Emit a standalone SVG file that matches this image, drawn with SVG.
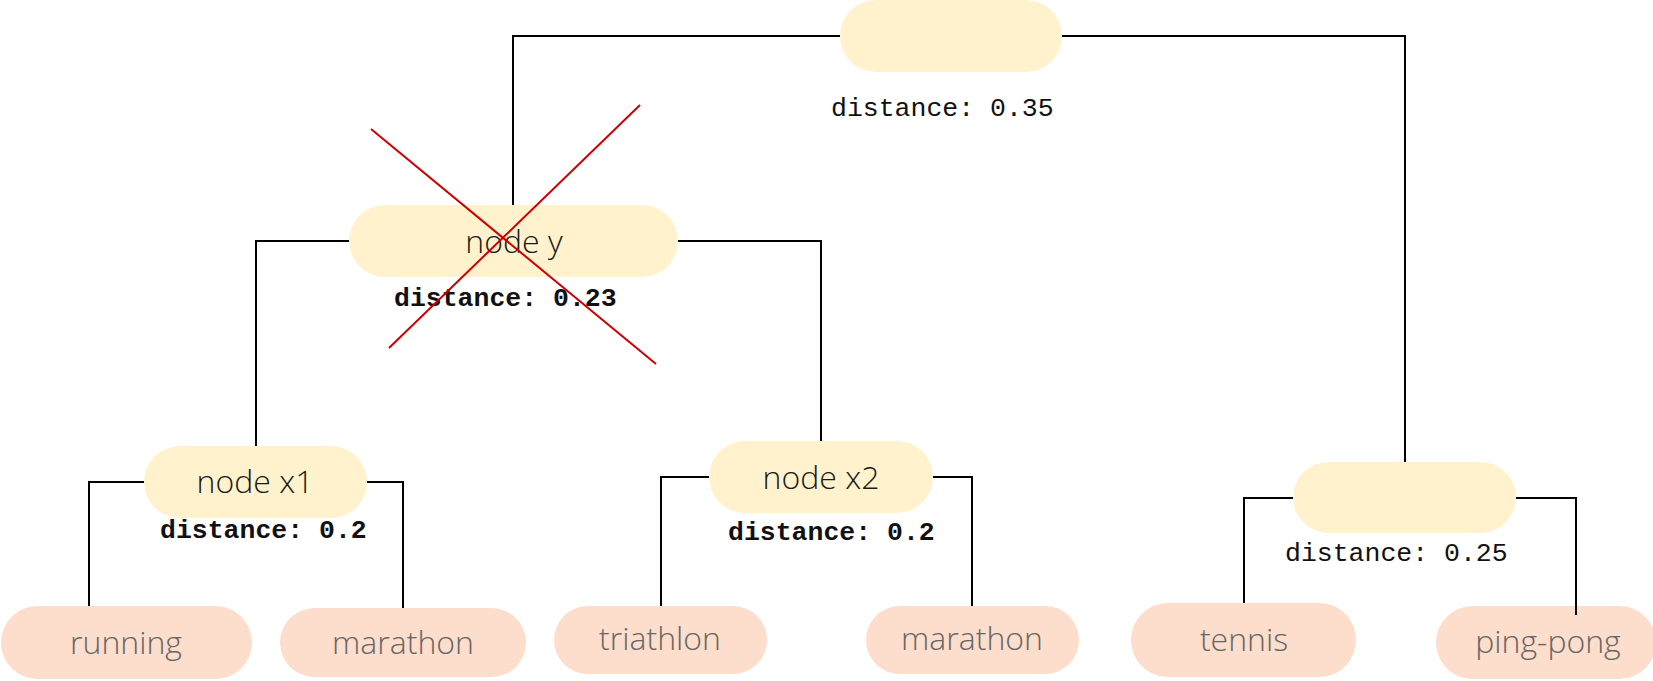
<svg xmlns="http://www.w3.org/2000/svg" width="1653" height="681" viewBox="0 0 1653 681">
  <style>
    .inner { fill: #FFF2CC; }
    .leaf { fill: #FDDDCB; }
    .lbl { font-family: "Open Sans", "Liberation Sans", sans-serif; font-weight: 300; font-size: 32px; text-anchor: middle; }
    .inner-lbl { fill: #1A1A1A; }
    .leaf-lbl { fill: #666666; }
    .dist { font-family: "Liberation Mono", "DejaVu Sans Mono", monospace; font-size: 26.5px; fill: #111111; }
    .bold { font-weight: bold; }
    .edge { fill: none; stroke: #000000; stroke-width: 2; }
    .cross { stroke: #CC0000; stroke-width: 2; fill: none; }
  </style>

  <!-- inner (merge) nodes -->
  <g id="node-root">
    <rect class="inner" x="840" y="0" width="222" height="72" rx="36"/>
    <text class="dist" x="831" y="116">distance: 0.35</text>
  </g>
  <g id="node-y">
    <rect class="inner" x="349" y="205" width="329" height="72" rx="36"/>
    <text class="lbl inner-lbl" x="514" y="253">node y</text>
    <text class="dist bold" x="394" y="306">distance: 0.23</text>
  </g>
  <g id="node-x1">
    <rect class="inner" x="144" y="446" width="223" height="72" rx="36"/>
    <text class="lbl inner-lbl" x="255" y="493">node x1</text>
    <text class="dist bold" x="160" y="538">distance: 0.2</text>
  </g>
  <g id="node-x2">
    <rect class="inner" x="709" y="441" width="224" height="72" rx="36"/>
    <text class="lbl inner-lbl" x="821" y="489">node x2</text>
    <text class="dist bold" x="728" y="540">distance: 0.2</text>
  </g>
  <g id="node-racket">
    <rect class="inner" x="1293" y="462" width="223" height="71" rx="35.5"/>
    <text class="dist" x="1285" y="561">distance: 0.25</text>
  </g>

  <!-- leaves -->
  <g id="leaf-running">
    <rect class="leaf" x="1" y="606" width="251" height="73" rx="36.5"/>
    <text class="lbl leaf-lbl" x="126" y="654">running</text>
  </g>
  <g id="leaf-marathon-1">
    <rect class="leaf" x="280" y="608" width="246" height="69" rx="34.5"/>
    <text class="lbl leaf-lbl" x="403" y="654">marathon</text>
  </g>
  <g id="leaf-triathlon">
    <rect class="leaf" x="554" y="606" width="213" height="68" rx="34"/>
    <text class="lbl leaf-lbl" x="660" y="650">triathlon</text>
  </g>
  <g id="leaf-marathon-2">
    <rect class="leaf" x="866" y="606" width="213" height="68" rx="34"/>
    <text class="lbl leaf-lbl" x="972" y="650">marathon</text>
  </g>
  <g id="leaf-tennis">
    <rect class="leaf" x="1131" y="603" width="225" height="74" rx="37"/>
    <text class="lbl leaf-lbl" x="1244" y="651">tennis</text>
  </g>
  <g id="leaf-ping-pong">
    <rect class="leaf" x="1436" y="606" width="220" height="73" rx="36.5"/>
    <text class="lbl leaf-lbl" x="1548" y="653">ping-pong</text>
  </g>

  <!-- dendrogram connectors -->
  <g id="connectors">
    <path class="edge" d="M513,205 V36 H840"/>
    <path class="edge" d="M1062,36 H1405 V462"/>
    <path class="edge" d="M349,241 H256 V446"/>
    <path class="edge" d="M678,241 H821 V441"/>
    <path class="edge" d="M144,482 H89 V606"/>
    <path class="edge" d="M367,482 H403 V608"/>
    <path class="edge" d="M709,477 H661 V606"/>
    <path class="edge" d="M933,477 H972 V606"/>
    <path class="edge" d="M1293,498 H1244 V603"/>
    <path class="edge" d="M1516,498 H1576 V615"/>
  </g>

  <!-- strike-through over node y -->
  <g id="strike">
    <line class="cross" x1="371" y1="129" x2="656" y2="364"/>
    <line class="cross" x1="640" y1="105" x2="389" y2="348"/>
  </g>
</svg>
